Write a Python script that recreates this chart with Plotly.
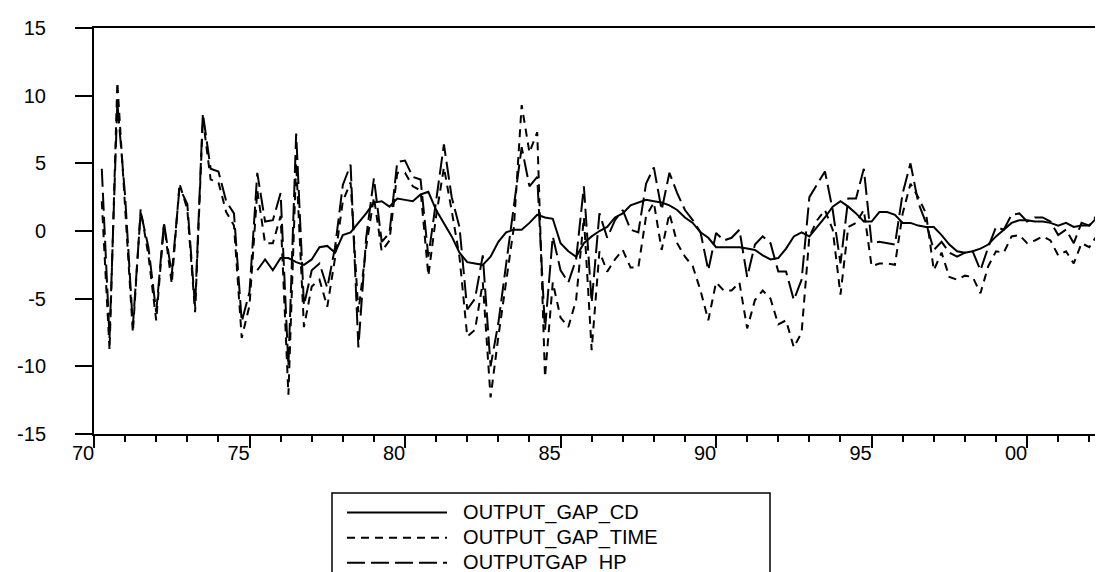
import plotly.graph_objects as go

# Quarterly observations, first = 1970Q2
start_year = 1970
start_quarter = 2

output_gap_cd_start_index = 20  # 1975Q2
output_gap_cd = [
    -2.9, -2.1, -2.9, -2.0, -2.0, -2.3, -2.5, -2.1, -1.2, -1.1,
    -1.6, -0.3, -0.1, 0.6, 1.3, 2.1, 2.2, 1.8, 2.4, 2.3,
    2.2, 2.7, 2.9, 1.55, 0.6, -0.4, -1.6, -2.3, -2.4, -2.5,
    -1.9, -0.8, -0.1, 0.1, 0.1, 0.6, 1.2, 1.0, 0.9, -0.9,
    -1.5, -1.9, -0.9, -0.4, 0.0, 0.3, 1.0, 1.3, 1.9, 2.1,
    2.3, 2.2, 2.1, 1.9, 1.55, 1.0, 0.6, -0.1, -0.5, -1.2,
    -1.2, -1.2, -1.2, -1.3, -1.4, -1.8, -2.1, -2.0, -1.3, -0.4,
    -0.1, -0.4, 0.3, 1.0, 1.8, 2.2, 1.8, 1.3, 0.7, 0.7,
    1.4, 1.4, 1.2, 0.6, 0.6, 0.4, 0.3, 0.3, -0.3, -1.0,
    -1.5, -1.6, -1.5, -1.3, -1.0, -0.4, 0.1, 0.6, 0.8, 0.8,
    0.7, 0.7, 0.6, 0.4, 0.6, 0.3, 0.4, 0.4, 1.0, 0.6,
]

output_gap_time = [
    2.2, -8.8, 11.0, 2.0, -7.5, 1.6, -1.8, -6.6, 0.5, -3.9,
    3.5, 1.6, -6.0, 8.3, 3.8, 3.6, 1.4, 0.4, -7.9, -5.5,
    3.0, -0.9, -0.9, 1.1, -12.1, 5.0, -7.1, -4.1, -3.6, -5.6,
    -2.0, 2.2, 3.6, -6.0, -1.2, 2.5, -1.5, -0.7, 4.3, 4.3,
    3.3, 3.0, -3.3, 1.1, 4.7, 1.5, -1.9, -7.8, -7.3, -3.8,
    -12.3, -7.8, -3.8, 0.3, 9.3, 5.8, 7.3, -10.8, -3.8, -6.4,
    -7.1, -5.1, 1.0, -8.8, -1.5, -3.0, -2.1, -1.4, -2.7, -2.7,
    1.1, 2.1, -1.4, 1.3, -0.9, -1.9, -2.6, -4.4, -6.6, -3.8,
    -4.4, -4.4, -3.8, -7.2, -5.1, -4.4, -5.0, -6.9, -6.6, -8.6,
    -7.5, -0.4, 0.8, 1.55, 0.1, -4.7, 0.3, 0.6, 1.55, -2.6,
    -2.4, -2.4, -2.5, 1.3, 3.5, 2.5, 1.3, -2.9, -1.6, -3.4,
    -3.6, -3.3, -3.4, -4.6, -2.6, -1.5, -1.6, -0.4, -0.3, -0.9,
    -0.7, -0.4, -0.7, -1.8, -1.5, -2.4, -0.9, -1.2, -0.3, -1.4,
]

outputgap_hp = [
    4.6, -7.9, 9.5, 2.6, -7.0, 1.4, -1.2, -6.0, 0.6, -3.2,
    3.2, 2.0, -5.6, 8.7, 4.6, 4.4, 2.2, 1.3, -6.7, -4.5,
    4.3, 0.7, 0.8, 2.8, -10.0, 7.2, -5.5, -2.9, -2.4, -4.2,
    -1.2, 3.4, 4.9, -8.6, -0.5, 3.9, -0.8, -0.15, 5.1, 5.2,
    4.0, 3.8, -1.9, 2.1, 6.4, 2.5, 0.3, -5.8, -5.0, -1.8,
    -10.0, -6.8, -2.4, 2.1, 6.2, 3.3, 4.0, -7.3, -0.4, -2.9,
    -3.8, -2.1, 3.3, -5.3, 1.3, -0.5, 0.8, 1.55, 0.1, -0.1,
    3.5, 4.7, 1.55, 4.3, 2.8, 1.55, 0.8, -0.1, -2.9, -0.15,
    -0.7, -0.5, 0.1, -3.4, -1.0, -0.4, -0.9, -3.0, -3.0, -5.1,
    -3.6, 2.5, 3.5, 4.4, 1.55, -2.4, 2.4, 2.4, 4.6, -0.9,
    -0.8, -0.9, -1.0, 2.8, 5.0, 2.1, 0.6, -1.4, -0.8, -1.6,
    -1.9, -1.6, -1.5, -2.9, -1.2, 0.3, 0.1, 1.2, 1.3, 0.7,
    1.0, 1.0, 0.7, -0.3, 0.1, -0.9, 0.6, 0.4, 1.2, 0.6,
]

series_names = ["OUTPUT_GAP_CD", "OUTPUT_GAP_TIME", "OUTPUTGAP_HP"]
year_tick_labels = {"1970": "70", "1975": "75", "1980": "80", "1985": "85",
                    "1990": "90", "1995": "95", "2000": "00"}
y_ticks = [-15, -10, -5, 0, 5, 10, 15]

n_obs = len(output_gap_time)
dates = [start_year + (start_quarter - 1 + k) / 4.0 for k in range(n_obs)]
dates_cd = dates[output_gap_cd_start_index:output_gap_cd_start_index + len(output_gap_cd)]

FONT = "Arial, 'Liberation Sans', Helvetica, sans-serif"

# The page body has an 8px margin; the figure is sized so that it ends at the window edge.
W, H = 1095, 564
ML, MT, MB = 86, 20, 138
PW = W - ML
PH = H - MT - MB


def legend_label(name):
    return '<span style="font-size:20px">\u00a0\u00a0' + name + '</span>'


fig = go.Figure()
fig.add_trace(go.Scatter(x=dates_cd, y=output_gap_cd, mode="lines", name=legend_label(series_names[0]),
                         line=dict(color="black", width=2)))
fig.add_trace(go.Scatter(x=dates, y=output_gap_time, mode="lines", name=legend_label(series_names[1]),
                         line=dict(color="black", width=2, dash="8px,6px")))
fig.add_trace(go.Scatter(x=dates, y=outputgap_hp, mode="lines", name=legend_label(series_names[2]),
                         line=dict(color="black", width=2, dash="18px,6px")))

# legend frame (extends below the visible page, as in the reference)
box_left, box_right, box_top = 324, 762, 485
fig.add_shape(type="rect", xref="paper", yref="paper",
              x0=(box_left - ML) / PW, x1=(box_right - ML) / PW,
              y0=(H - MB - box_top) / PH, y1=-0.6,
              line=dict(color="black", width=1.5), fillcolor="rgba(0,0,0,0)", layer="above")

fig.update_layout(
    width=W, height=H,
    margin=dict(l=ML, r=0, t=MT, b=MB, autoexpand=False),
    paper_bgcolor="white", plot_bgcolor="white",
    font=dict(family=FONT, size=20, color="black"),
    showlegend=True,
    legend=dict(
        x=(334 - ML) / PW, y=(H - MB - 487) / PH, xanchor="left", yanchor="top",
        borderwidth=0, bgcolor="rgba(0,0,0,0)",
        font=dict(family=FONT, size=17, color="black"),
        itemwidth=100, tracegroupgap=0,
    ),
)

fig.update_xaxes(
    range=[1970, 2002.44], tickmode="linear", tick0=1970, dtick=5,
    labelalias=year_tick_labels, ticklabelshift=-11, ticklabelstandoff=-12,
    ticks="outside", ticklen=12, tickwidth=1.5, tickcolor="black",
    minor=dict(dtick=1, tick0=1970, ticks="outside", ticklen=6, tickwidth=1.5, tickcolor="black", showgrid=False),
    showline=True, linecolor="black", linewidth=2, mirror=True,
    showgrid=False, zeroline=False,
    tickfont=dict(family=FONT, size=20, color="black"),
)
fig.update_yaxes(
    range=[-15, 15], tickmode="array", tickvals=y_ticks, ticktext=[str(v) for v in y_ticks],
    ticks="outside", ticklen=17, tickwidth=1.5, tickcolor="black",
    showline=True, linecolor="black", linewidth=2, mirror=False,
    showgrid=False, zeroline=False, ticklabelstandoff=25,
    tickfont=dict(family=FONT, size=20, color="black"),
)

fig.write_html("out.html")
